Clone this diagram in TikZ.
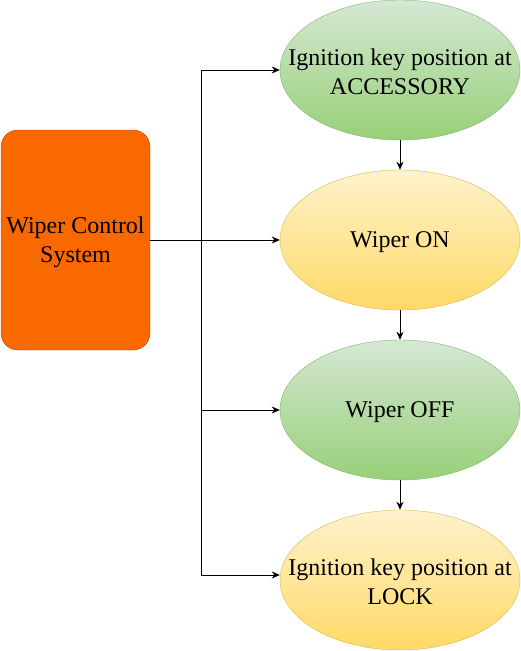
\documentclass[tikz,border=0pt]{standalone}
\usepackage{fontspec}
\setmainfont{Liberation Serif}
\usetikzlibrary{shapes.geometric,arrows.meta}
\definecolor{orfill}{HTML}{FA6800}
\definecolor{ordraw}{HTML}{C73500}
\definecolor{gtop}{HTML}{D5E8D4}
\definecolor{gbot}{HTML}{97D077}
\definecolor{gdraw}{HTML}{82B366}
\definecolor{ytop}{HTML}{FFF2CC}
\definecolor{ybot}{HTML}{FFD966}
\definecolor{ydraw}{HTML}{D6B656}
\begin{document}
\begin{tikzpicture}[x=1pt,y=-1pt,
  lbl/.style={font=\fontsize{24}{29}\selectfont, align=center, text=black},
  sysbox/.style={lbl, draw=ordraw, fill=orfill, rounded corners=17pt, minimum width=149pt, minimum height=220pt, inner sep=0pt, text depth=-4pt},
  ellbase/.style={ellipse, minimum width=240pt, minimum height=140pt, inner sep=0pt},
  gell/.style={ellbase, draw=gdraw, top color=gtop, bottom color=gbot},
  yell/.style={ellbase, draw=ydraw, top color=ytop, bottom color=ybot},
  arr/.style={draw=black, line width=0.9pt, -{Stealth[length=8pt,width=7pt,inset=2.5pt]}}
]
\useasboundingbox (0,0) rectangle (521,651);
\node[sysbox] (sys) at (75.5,240) {Wiper Control\\System};
\node[gell, label={[lbl,yshift=-2pt]center:Ignition key position at\\ACCESSORY}] (e1) at (400,70) {};
\node[yell, label={[lbl,yshift=-2pt]center:Wiper ON}] (e2) at (400,240) {};
\node[gell, label={[lbl,yshift=-2pt]center:Wiper OFF}] (e3) at (400,410) {};
\node[yell, label={[lbl,yshift=-2pt]center:Ignition key position at\\LOCK}] (e4) at (400,580) {};
\coordinate (j) at (201,240);
\draw[arr] (sys.east) -- (e2.west);
\draw[arr] (j) |- (e1.west);
\draw[arr] (j) |- (e3.west);
\draw[arr] (j) |- ([yshift=5pt]e4.west);
\draw[arr] (e1.south) -- (e2.north);
\draw[arr] (e2.south) -- (e3.north);
\draw[arr] (e3.south) -- (e4.north);
\end{tikzpicture}
\end{document}
